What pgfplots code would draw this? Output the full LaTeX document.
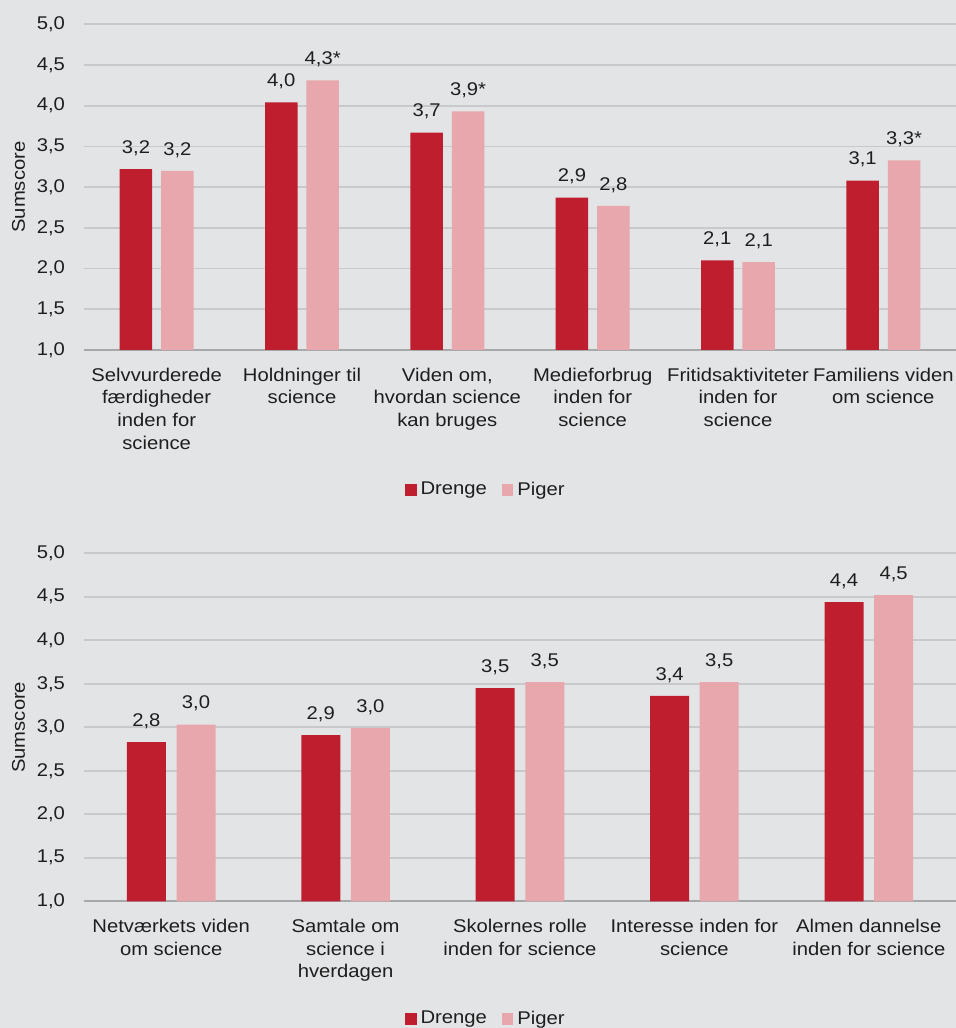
\documentclass[border=0pt]{standalone}
\usepackage{fontspec}
\setmainfont{Liberation Sans}[FakeStretch=1.1]
\usepackage{pgfplots}
\usepackage{pgfplotstable}
\pgfplotsset{compat=1.18}
\definecolor{cRed}{HTML}{BE1E2D}
\definecolor{cPink}{HTML}{E8A7AC}
\definecolor{cBg}{HTML}{E3E4E6}
\definecolor{cGrid}{HTML}{C8C9CB}
\definecolor{cAxis}{HTML}{A7A8AA}
\definecolor{cText}{HTML}{1E1E1E}
\newcommand\cf{\fontsize{9.2pt}{11.3pt}\selectfont}
\pgfplotsset{
  mylegend/.style={legend image code/.code={\fill[##1] (0pt,-2.85pt) rectangle (5.7pt,2.85pt);}},
  common/.style={
    scale only axis,
    width=436pt,
    ymin=1, ymax=5,
    ytick={1,1.5,2,2.5,3,3.5,4,4.5,5},
    ymajorgrids,
    major grid style={draw=cGrid, line width=0.8pt},
    major tick length=0pt,
    axis lines*=left,
    y axis line style={draw=none},
    x axis line style={draw=cAxis, line width=1pt},
    xtick=data,
    yticklabel style={font=\cf, text=cText, xshift=-6pt},
    xticklabel style={font=\cf, text=cText, align=center, yshift=-5.5pt},
    /pgf/number format/.cd, use comma, fixed, fixed zerofill, precision=1, assume math mode=true,
    /pgfplots/.cd,
    ylabel={Sumscore},
    ylabel style={font=\cf, text=cText, at={(axis description cs:-0.0751,0.5)}, anchor=center},
    ybar,
    nodes near coords,
    point meta=explicit symbolic,
    every node near coord/.append style={font=\cf, text=cText, yshift=3.2pt},
    legend columns=2,
    legend style={draw=none, fill=none, font=\cf, text=cText, anchor=center,
      /tikz/every even column/.append style={column sep=5.5pt}},
  }
}
\pgfplotstableread{
x d dl p pl
0 3.22 3,2 3.20 3,2
1 4.04 4,0 4.31 4,3*
2 3.67 3,7 3.93 3,9*
3 2.87 2,9 2.77 2,8
4 2.10 2,1 2.08 2,1
5 3.08 3,1 3.33 3,3*
}\topdata
\pgfplotstableread{
x d dl p pl
0 2.83 2,8 3.03 3,0
1 2.91 2,9 2.99 3,0
2 3.45 3,5 3.52 3,5
3 3.36 3,4 3.52 3,5
4 4.44 4,4 4.52 4,5
}\botdata
\begin{document}
\begin{tikzpicture}
\fill[cBg] (0,0) rectangle (478pt,514pt);
\useasboundingbox (0,0) rectangle (478pt,514pt);
\begin{axis}[common,
  at={(42pt,339pt)}, anchor=south west,
  height=162.85pt,
  xmin=-0.5, xmax=5.5,
  bar width=16.25pt,
  xticklabels={{Selvvurderede\\færdigheder\\inden for\\science},{Holdninger til\\science},{Viden om,\\hvordan science\\kan bruges},{Medieforbrug\\inden for\\science},{Fritidsaktiviteter\\inden for\\science},{Familiens viden\\om science}},
  legend style={at={(axis description cs:0.462,-0.43)}},
]
\addplot[fill=cRed, draw=none, bar shift=-10.35pt, mylegend] table[x=x, y=d, meta=dl]{\topdata};
\addplot[fill=cPink, draw=none, bar shift=10.35pt, mylegend] table[x=x, y=p, meta=pl]{\topdata};
\legend{Drenge, Piger}
\end{axis}
\begin{axis}[common,
  at={(42pt,63.35pt)}, anchor=south west,
  height=174pt,
  xmin=-0.5, xmax=4.5,
  bar width=19.5pt,
  xticklabels={{Netværkets viden\\om science},{Samtale om\\science i\\hverdagen},{Skolernes rolle\\inden for science},{Interesse inden for\\science},{Almen dannelse\\inden for science}},
  legend style={at={(axis description cs:0.462,-0.338)}},
]
\addplot[fill=cRed, draw=none, bar shift=-12.4pt, mylegend] table[x=x, y=d, meta=dl]{\botdata};
\addplot[fill=cPink, draw=none, bar shift=12.4pt, mylegend] table[x=x, y=p, meta=pl]{\botdata};
\legend{Drenge, Piger}
\end{axis}
\end{tikzpicture}
\end{document}
